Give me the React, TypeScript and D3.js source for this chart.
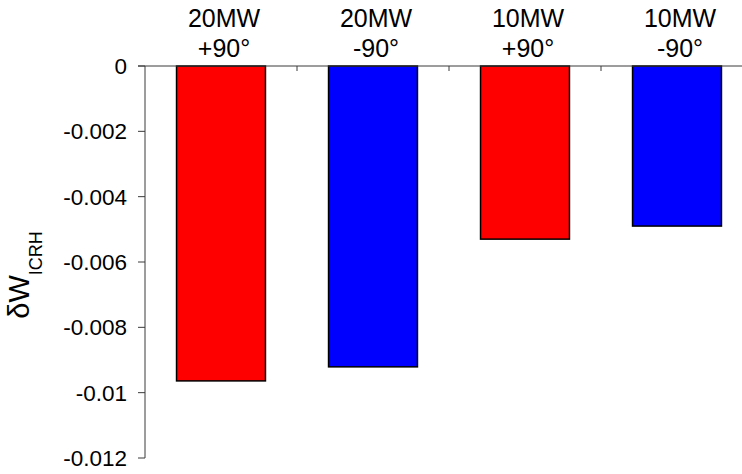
import React from "react";
import * as d3 from "d3";

const categories = ["20MW|+90°", "20MW|-90°", "10MW|+90°", "10MW|-90°"];
const values = [-0.00964, -0.00921, -0.0053, -0.0049];
const colors = ["#ff0000", "#0000ff", "#ff0000", "#0000ff"];
const yTicks = [0, -0.002, -0.004, -0.006, -0.008, -0.01, -0.012];
const yTickLabels = ["0", "-0.002", "-0.004", "-0.006", "-0.008", "-0.01", "-0.012"];

export default function App() {
  const W = 742, H = 474;
  const left = 145, right = 753, top = 66, bottom = 458;
  const x = d3.scaleBand<string>().domain(categories).range([left, right]).paddingInner(0).paddingOuter(0);
  const y = d3.scaleLinear().domain([0, -0.012]).range([top, bottom]);
  const barW = x.bandwidth() * 0.585;
  const font = "Arial, 'Liberation Sans', Helvetica, sans-serif";
  const axisColor = "#3a3a3a";

  return (
    <svg width={W} height={H} style={{ position: "absolute", left: 0, top: 0, background: "#fff" }} fontFamily={font}>
      {categories.map((c, i) => {
        const x0 = x(c)! + (x.bandwidth() - barW) / 2;
        const y0 = y(0);
        const y1 = y(values[i]);
        return (
          <rect key={c} x={x0} y={y0} width={barW} height={y1 - y0} fill={colors[i]} stroke="#000" strokeWidth={1.5} />
        );
      })}
      {/* top axis */}
      <line x1={left - 7} x2={W} y1={y(0)} y2={y(0)} stroke={axisColor} strokeWidth={1} />
      {categories.slice(1).map((c) => (
        <line key={"t" + c} x1={x(c)!} x2={x(c)!} y1={y(0)} y2={y(0) + 5} stroke={axisColor} strokeWidth={1} />
      ))}
      {/* left axis */}
      <line x1={left} x2={left} y1={top} y2={bottom} stroke={axisColor} strokeWidth={1} />
      {yTicks.map((t, i) => (
        <g key={"y" + i}>
          <line x1={left - 7} x2={left} y1={y(t)} y2={y(t)} stroke={axisColor} strokeWidth={1} />
          <text x={127} y={y(t)} dy="0.36em" textAnchor="end" fontSize={22.5} fill="#000">{yTickLabels[i]}</text>
        </g>
      ))}
      {categories.map((c) => {
        const [a, b] = c.split("|");
        const cx = x(c)! + x.bandwidth() / 2 + 3;
        return (
          <text key={"l" + c} x={cx} textAnchor="middle" fontSize={25} fill="#000">
            <tspan x={cx} y={27}>{a}</tspan>
            <tspan x={cx} y={57}>{b}</tspan>
          </text>
        );
      })}
      <text transform={`translate(29,275) rotate(-90)`} textAnchor="middle" fontSize={29} fill="#000">
        δW<tspan fontSize={18} dy={13}>ICRH</tspan>
      </text>
    </svg>
  );
}
